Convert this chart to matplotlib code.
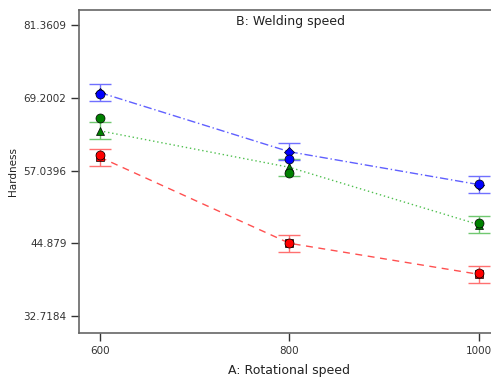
import matplotlib
matplotlib.use("Agg")
import matplotlib.pyplot as plt

speeds = [600, 800, 1000]
yticks = [32.7184, 44.879, 57.0396, 69.2002, 81.3609]
ytick_labels = ["32.7184", "44.879", "57.0396", "69.2002", "81.3609"]

pred_red = [59.3, 44.9, 39.7]
obs_red = [59.6, 44.9, 39.9]
pred_green = [63.7, 57.6, 48.0]
obs_green = [65.9, 56.7, 48.3]
pred_blue = [70.1, 60.2, 54.7]
obs_blue = [69.8, 59.0, 54.8]
err_half = 1.42

plt.rcParams['font.family'] = ['DejaVu Sans']

fig = plt.figure(figsize=(4.91, 3.82), dpi=100)
ax = fig.add_axes([79/491, 1-333/382, (500-79)/491, (333-10)/382])

series = [
    (pred_red, obs_red, 's', '#ff0000', '#ff7070', '#ff5050', (0, (5, 4))),
    (pred_green, obs_green, '^', '#008000', '#70c870', '#50c050', (0, (1, 2))),
    (pred_blue, obs_blue, 'D', '#0000ff', '#7070ff', '#6060ff', (0, (6, 2, 1, 2))),
]
for pred, obs, mk, mcol, ecol, lcol, ls in series:
    ax.plot(speeds, pred, color=lcol, linestyle=ls, linewidth=1.0, zorder=2)
    ax.errorbar(speeds, pred, yerr=err_half, fmt='none', ecolor=ecol,
                elinewidth=1.0, capsize=8, capthick=1.0, zorder=3)
    ax.plot(speeds, pred, linestyle='none', marker=mk, markersize=6 if mk != 'D' else 5,
            markerfacecolor=mcol, markeredgecolor='black', markeredgewidth=0.5, zorder=4)
    ax.plot(speeds, obs, linestyle='none', marker='o', markersize=6.5,
            markerfacecolor=mcol, markeredgecolor='black', markeredgewidth=0.5, zorder=5)

ax.set_xlim(578, 1022)
ax.set_ylim(29.9, 83.9)
ax.set_xticks(speeds)
ax.set_xticklabels([str(s) for s in speeds])
ax.set_yticks(yticks)
ax.set_yticklabels(ytick_labels)
ax.tick_params(axis='both', labelsize=7.5, colors='#333333', length=6, width=1.0, direction='out')
ax.tick_params(axis='x', pad=3)
ax.tick_params(axis='y', pad=3)
for s in ['left', 'bottom', 'top']:
    ax.spines[s].set_color('#666666')
    ax.spines[s].set_linewidth(1.2)
ax.spines['right'].set_visible(False)

ax.set_xlabel("A: Rotational speed", fontsize=9, color='#222222', labelpad=6)
ax.set_ylabel("Hardness", fontsize=7.5, color='#222222', labelpad=4)
fig.text(290/491, 1-22/382, "B: Welding speed", fontsize=9, color='#222222',
         ha='center', va='center')

fig.savefig("out.png", dpi=100)
